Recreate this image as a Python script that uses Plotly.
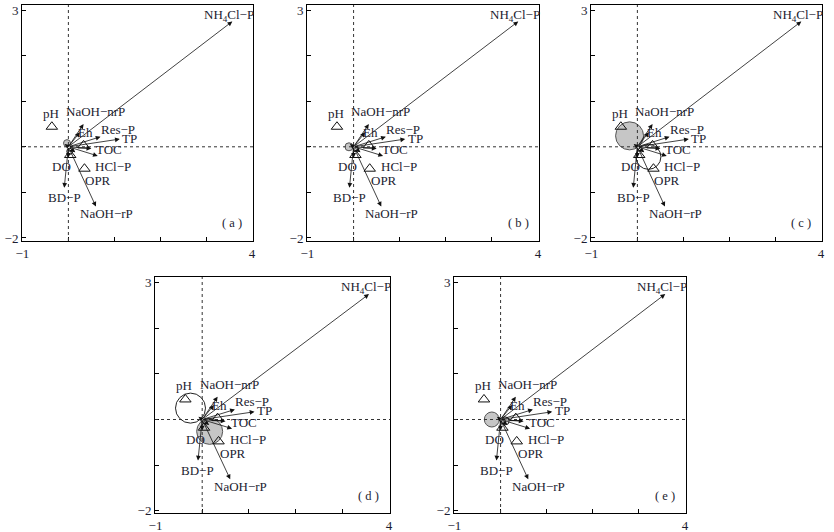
import plotly.graph_objects as go

# ---- data ----
var_labels = ["NH<sub>4</sub>Cl−P", "NaOH−nrP", "Eh", "Res−P", "TP", "TOC",
              "HCl−P", "OPR", "DO", "BD−P", "NaOH−rP", "pH"]
arrow_x = [3.57, 0.33, 0.25, 0.70, 1.12, 0.50, 0.64, 0.15, 0.00, -0.09, 0.60, -0.08]
arrow_y = [2.75, 0.50, 0.32, 0.22, 0.17, -0.04, -0.20, -0.12, -0.24, -0.90, -1.31, 0.06]
label_x = [3.50, 0.58, 0.37, 1.07, 1.34, 0.89, 0.98, 0.65, -0.14, -0.09, 0.83, -0.38]
label_y = [2.89, 0.77, 0.31, 0.39, 0.19, -0.06, -0.44, -0.74, -0.43, -1.11, -1.47, 0.74]

sample_x = [-0.36, 0.33, 0.35, 0.04]
sample_y = [0.44, 0.03, -0.48, -0.18]

panel_names = ["( a )", "( b )", "( c )", "( d )", "( e )"]
gray_x = [-0.03, -0.10, -0.17, 0.16, -0.19]
gray_y = [0.08, 0.00, 0.24, -0.26, 0.00]
gray_size = [7, 8, 28, 26, 15]
open_x = [0.03, 0.05, 0.24, -0.25, 0.10]
open_y = [-0.10, -0.05, -0.22, 0.25, -0.03]
open_size = [6, 5, 25, 30, 8]

x_ticks = [-1, 0, 1, 2, 3, 4]
x_ticktext = ["−1", "", "", "", "", "4"]
y_ticks = [-2, -1, 0, 1, 2, 3]
y_ticktext = ["−2", "", "", "", "", "3"]

# ---- layout geometry (pixels in the 834x532 window) ----
W, H = 834, 532
panel_px = [(22, 253, 5, 241), (307, 539, 5, 241), (591, 822, 5, 241),
            (155, 390, 277, 513), (454, 686, 277, 513)]
y_ranges = [[-2.066, 3.11]] * 3 + [[-2.05, 3.125]] * 2

FONT = "Liberation Serif, Times New Roman, serif"
TXT = "#1c1c30"

fig = go.Figure()
layout = dict(width=W, height=H, margin=dict(l=0, r=0, t=0, b=0, autoexpand=False),
              paper_bgcolor="white", plot_bgcolor="white", showlegend=False,
              font=dict(family=FONT, size=12, color=TXT))
annotations = []
shapes = []

for i in range(5):
    n = i + 1
    xa = "x" if n == 1 else f"x{n}"
    ya = "y" if n == 1 else f"y{n}"
    x0, x1, y0, y1 = panel_px[i]
    layout[f"xaxis{n}" if n > 1 else "xaxis"] = dict(
        domain=[x0 / W, x1 / W], range=[-1.01, 4.02], anchor=ya,
        automargin=False,
        tickvals=x_ticks, ticktext=x_ticktext, ticks="inside", ticklen=4,
        tickcolor="black", showline=True, linecolor="black", linewidth=1,
        mirror=True, showgrid=False, zeroline=False,
        tickfont=dict(family=FONT, size=13, color=TXT))
    layout[f"yaxis{n}" if n > 1 else "yaxis"] = dict(
        domain=[1 - y1 / H, 1 - y0 / H],
        range=y_ranges[i], anchor=xa, automargin=False,
        tickvals=y_ticks, ticktext=y_ticktext, ticks="inside", ticklen=4,
        tickcolor="black", showline=True, linecolor="black", linewidth=1,
        mirror=True, showgrid=False, zeroline=False,
        tickfont=dict(family=FONT, size=13, color=TXT))

    # dashed zero lines
    shapes.append(dict(type="line", xref=xa, yref=f"{ya} domain", x0=0, x1=0, y0=0, y1=1,
                       line=dict(color="#333333", width=1, dash="dot")))
    shapes.append(dict(type="line", xref=f"{xa} domain", yref=ya, x0=0, x1=1, y0=0, y1=0,
                       line=dict(color="#333333", width=1, dash="dot")))

    # bubbles
    fig.add_trace(go.Scatter(x=[gray_x[i]], y=[gray_y[i]], mode="markers", xaxis=xa, yaxis=ya,
                             marker=dict(size=gray_size[i], color="#c6c6c6",
                                         line=dict(color="#555555", width=1)),
                             hoverinfo="skip"))
    fig.add_trace(go.Scatter(x=[open_x[i]], y=[open_y[i]], mode="markers", xaxis=xa, yaxis=ya,
                             marker=dict(size=open_size[i], color="rgba(0,0,0,0)",
                                         line=dict(color="#222222", width=1)),
                             hoverinfo="skip"))
    # samples
    fig.add_trace(go.Scatter(x=sample_x, y=sample_y, mode="markers", xaxis=xa, yaxis=ya,
                             marker=dict(symbol="triangle-up-open", size=10, color="#111111",
                                         line=dict(width=1)),
                             hoverinfo="skip"))

    # arrows
    for ax_, ay_ in zip(arrow_x, arrow_y):
        annotations.append(dict(x=ax_, y=ay_, ax=0, ay=0, xref=xa, yref=ya,
                                axref=xa, ayref=ya, text="", showarrow=True,
                                arrowhead=2, arrowsize=1.2, arrowwidth=0.8,
                                arrowcolor="#111111", standoff=0, startstandoff=0))
    # labels
    for t, lx, ly in zip(var_labels, label_x, label_y):
        annotations.append(dict(x=lx, y=ly, xref=xa, yref=ya, text=t, showarrow=False,
                                font=dict(family=FONT, size=13, color=TXT)))
    annotations.append(dict(x=3.57, y=-1.68, xref=xa, yref=ya, text=panel_names[i],
                            showarrow=False, font=dict(family=FONT, size=12.5, color=TXT)))

layout["annotations"] = annotations
layout["shapes"] = shapes
fig.update_layout(**layout)
fig.write_html("out.html", config={"displayModeBar": False},
               post_script="document.body.style.margin='0';document.body.style.padding='0';")
